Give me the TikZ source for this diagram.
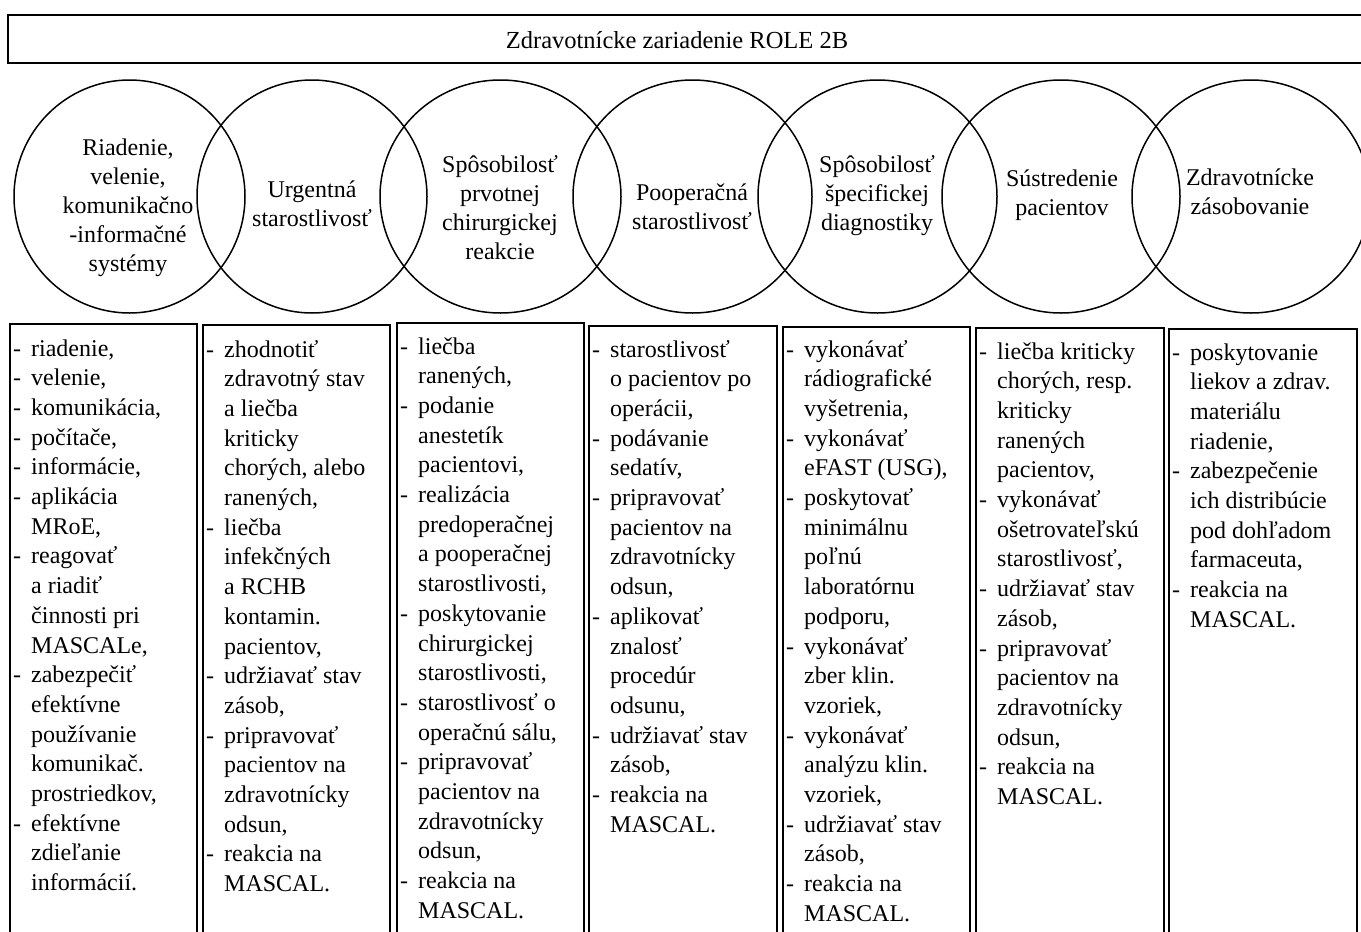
\documentclass[tikz,border=0pt]{standalone}
\usepackage{fontspec}
\setmainfont{Liberation Serif}
% list markers: a hyphen hanging in front of each item, continuation lines indented
\newcommand\itm{\makebox[18pt][l]{-}}
\newcommand\cnt{\hspace*{18pt}}
\begin{document}
\begin{tikzpicture}[x=1pt,y=-1pt,
  frame/.style={line width=1.7pt},
  ring/.style={line width=1.5pt},
  headtext/.style={inner sep=0pt, font=\fontsize{24.5}{29}\selectfont},
  ringtext/.style={align=center, inner sep=0pt, font=\fontsize{24}{29}\selectfont},
  % multi-line nodes sit on the baseline of their last line
  listtext/.style={anchor=base west, align=left, inner sep=0pt, font=\fontsize{24}{29.7}\selectfont},
]
\useasboundingbox (0,0) rectangle (1361,932);

% heading bar (runs off the right edge)
\draw[frame] (1380,15) -- (8,15) -- (8,63) -- (1380,63);
\node[headtext] (title) at (677,40) {Zdravotnícke zariadenie ROLE 2B};

% overlapping capability rings
\draw[ring] (129.5,196.5) ellipse [x radius=115.5, y radius=116.5];
\draw[ring] (312,196.5) ellipse [x radius=115, y radius=116.5];
\draw[ring] (500.5,196.5) ellipse [x radius=120.5, y radius=116.5];
\draw[ring] (692.5,196.5) ellipse [x radius=119.5, y radius=116.5];
\draw[ring] (877.5,196.5) ellipse [x radius=119.5, y radius=116.5];
\draw[ring] (1061,196.5) ellipse [x radius=119, y radius=116.5];
\draw[ring] (1251,196.5) ellipse [x radius=119, y radius=116.5];

\node[ringtext] (r1) at (128,208) {Riadenie,\\velenie,\\komunikačno\\-informačné\\systémy};
\node[ringtext] (r2) at (312,204) {Urgentná\\starostlivosť};
\node[ringtext] (r3) at (500,208) {Spôsobilosť\\prvotnej\\chirurgickej\\reakcie};
\node[ringtext] (r4) at (692,207) {Pooperačná\\starostlivosť};
\node[ringtext] (r5) at (877,196) {Spôsobilosť\\špecifickej\\diagnostiky};
\node[ringtext] (r6) at (1062,195) {Sústredenie\\pacientov};
\node[ringtext] (r7) at (1250,192) {Zdravotnícke\\zásobovanie};

% task columns (open at the bottom)
\draw[frame] (10,945) -- (10,324) -- (197,324) -- (197,945);
\draw[frame] (203,945) -- (203,325) -- (390,325) -- (390,945);
\draw[frame] (397,945) -- (397,323) -- (584,323) -- (584,945);
\draw[frame] (589,945) -- (589,326) -- (777,326) -- (777,945);
\draw[frame] (783,945) -- (783,327) -- (970,327) -- (970,945);
\draw[frame] (976,945) -- (976,328) -- (1164,328) -- (1164,945);
\draw[frame] (1169,945) -- (1169,329) -- (1357,329) -- (1357,945);

\node[listtext] (l1) at (13,890.6) {\itm riadenie,\\\itm velenie,\\\itm komunikácia,\\\itm počítače,\\\itm informácie,\\\itm aplikácia\\\cnt MRoE,\\\itm reagovať\\\cnt a riadiť\\\cnt činnosti pri\\\cnt MASCALe,\\\itm zabezpečiť\\\cnt efektívne\\\cnt používanie\\\cnt komunikač.\\\cnt prostriedkov,\\\itm efektívne\\\cnt zdieľanie\\\cnt informácií.};

\node[listtext] (l2) at (206,891.6) {\itm zhodnotiť\\\cnt zdravotný stav\\\cnt a liečba\\\cnt kriticky\\\cnt chorých, alebo\\\cnt ranených,\\\itm liečba\\\cnt infekčných\\\cnt a RCHB\\\cnt kontamin.\\\cnt pacientov,\\\itm udržiavať stav\\\cnt zásob,\\\itm pripravovať\\\cnt pacientov na\\\cnt zdravotnícky\\\cnt odsun,\\\itm reakcia na\\\cnt MASCAL.};

\node[listtext] (l3) at (400,918.3) {\itm liečba\\\cnt ranených,\\\itm podanie\\\cnt anestetík\\\cnt pacientovi,\\\itm realizácia\\\cnt predoperačnej\\\cnt a pooperačnej\\\cnt starostlivosti,\\\itm poskytovanie\\\cnt chirurgickej\\\cnt starostlivosti,\\\itm starostlivosť o\\\cnt operačnú sálu,\\\itm pripravovať\\\cnt pacientov na\\\cnt zdravotnícky\\\cnt odsun,\\\itm reakcia na\\\cnt MASCAL.};

\node[listtext] (l4) at (592,832.2) {\itm starostlivosť\\\cnt o pacientov po\\\cnt operácii,\\\itm podávanie\\\cnt sedatív,\\\itm pripravovať\\\cnt pacientov na\\\cnt zdravotnícky\\\cnt odsun,\\\itm aplikovať\\\cnt znalosť\\\cnt procedúr\\\cnt odsunu,\\\itm udržiavať stav\\\cnt zásob,\\\itm reakcia na\\\cnt MASCAL.};

\node[listtext] (l5) at (786,921.3) {\itm vykonávať\\\cnt rádiografické\\\cnt vyšetrenia,\\\itm vykonávať\\\cnt eFAST (USG),\\\itm poskytovať\\\cnt minimálnu\\\cnt poľnú\\\cnt laboratórnu\\\cnt podporu,\\\itm vykonávať\\\cnt zber klin.\\\cnt vzoriek,\\\itm vykonávať\\\cnt analýzu klin.\\\cnt vzoriek,\\\itm udržiavať stav\\\cnt zásob,\\\itm reakcia na\\\cnt MASCAL.};

\node[listtext] (l6) at (979,804.5) {\itm liečba kriticky\\\cnt chorých, resp.\\\cnt kriticky\\\cnt ranených\\\cnt pacientov,\\\itm vykonávať\\\cnt ošetrovateľskú\\\cnt starostlivosť,\\\itm udržiavať stav\\\cnt zásob,\\\itm pripravovať\\\cnt pacientov na\\\cnt zdravotnícky\\\cnt odsun,\\\itm reakcia na\\\cnt MASCAL.};

\node[listtext] (l7) at (1172,627.3) {\itm poskytovanie\\\cnt liekov a zdrav.\\\cnt materiálu\\\cnt riadenie,\\\itm zabezpečenie\\\cnt ich distribúcie\\\cnt pod dohľadom\\\cnt farmaceuta,\\\itm reakcia na\\\cnt MASCAL.};
\end{tikzpicture}
\end{document}
